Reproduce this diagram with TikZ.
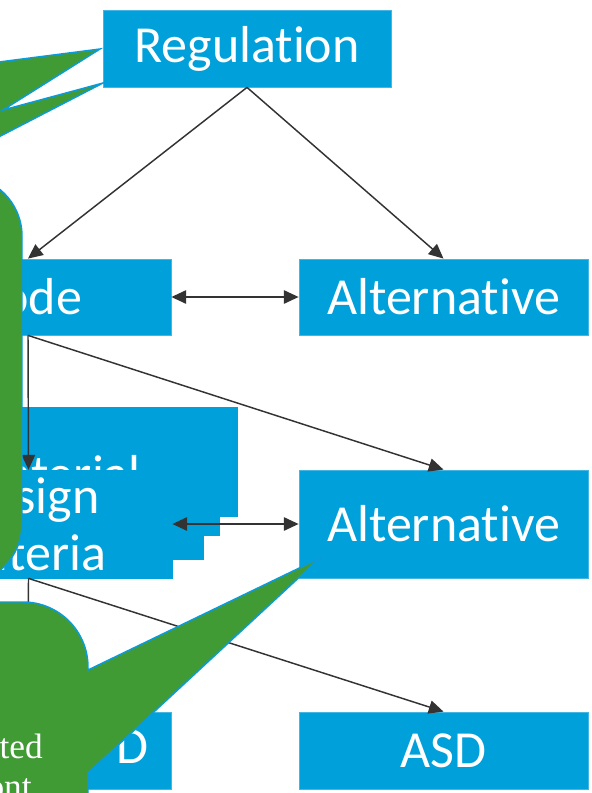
\documentclass[tikz,border=0pt]{standalone}
\usepackage{fontspec}
\usetikzlibrary{arrows.meta}
\newfontfamily\boxfont{Carlito}[Ligatures=NoCommon]
\newfontfamily\callfont{Liberation Serif}
\definecolor{boxblue}{HTML}{00A0DA}
\definecolor{boxedge}{HTML}{45B5E4}
\definecolor{calgreen}{HTML}{409B35}
\definecolor{caledge}{HTML}{0A9BDC}
\definecolor{arrgray}{HTML}{333333}
\begin{document}
\begin{tikzpicture}[x=0.75pt,y=-0.75pt,
 box/.style={fill=boxblue,draw=boxedge,line width=0.6pt,inner sep=0pt,text=white,font=\boxfont\fontsize{39}{42.75}\selectfont,align=center},
 flatbox/.style={box,draw=boxblue},
 lbl/.style={inner sep=0pt,text=white,font=\boxfont\fontsize{39}{42.75}\selectfont},
 arr/.style={draw=arrgray,line width=1.1pt,-{Triangle[length=11pt,width=10pt]}},
 arrtwo/.style={draw=arrgray,line width=1.1pt,{Triangle[length=11pt,width=10pt]}-{Triangle[length=11pt,width=10pt]}},
 callout/.style={fill=calgreen,draw=caledge,line width=1.1pt,line join=miter},
 calltext/.style={inner sep=0pt,text=white,font=\callfont\fontsize{26.5}{30}\selectfont}]
\useasboundingbox (0,0) rectangle (592,793);

% boxes
\node[box,minimum width=216pt,minimum height=57.75pt] (reg) at (247,48.5) {Regulation};
\node[box,minimum width=214.5pt,minimum height=57pt] (code) at (28,297) {Code};
\node[box,minimum width=216.75pt,minimum height=57pt] (alt1) at (443.5,297) {Alternative};
\node[flatbox,minimum width=264pt,minimum height=81.75pt] (mata) at (61,461.5) {};
\node[flatbox,minimum width=250.5pt,minimum height=78.75pt] (matb) at (52,482.5) {};
\node[flatbox,minimum width=238.5pt,minimum height=81.75pt] (matc) at (44,504.5) {};
\node[lbl,anchor=base east] (mattext) at (141,491) {Material};
\node[flatbox,minimum width=215.25pt,minimum height=81pt] (design) at (28.5,524) {Design\\Criteria};
\node[box,minimum width=216.75pt,minimum height=81pt] (alt2) at (443.5,524) {Alternative};
\node[box,minimum width=214.5pt,minimum height=57.75pt] (lrfd) at (28,750.5) {};
\node[lbl,anchor=base east] (lrfdtext) at (149,763) {D};
\node[box,minimum width=216.75pt,minimum height=57.75pt] (asd) at (443.5,750.5) {ASD};

% connectors
\draw[arr] (reg.south) -- (code.north);
\draw[arr] (reg.south) -- (alt1.north);
\draw[arrtwo] (code.east) -- (alt1.west);
\draw[arr] (code.south) -- (alt2.north);
\draw[arr] (code.south) -- (design.north);
\draw[arrtwo] (design.east) -- (alt2.west);
\draw[arr] (design.south) -- (asd.north);
\draw[arr] (design.south) -- (lrfd.north);

% callouts
\draw[callout] (-40,67) -- (100,49) -- (3,110) -- (103,83) -- (-40,157) -- cycle;
\draw[callout,rounded corners=45pt] (-300,176) rectangle (22,584);
\draw[callout] (-300,602) -- (23,602) .. controls (58.9,602) and (88,631.1) .. (88,667)
  -- (88,670) -- (320,558) -- (88,773) -- (88,900) -- (-300,900) -- cycle;
\node[calltext,anchor=base east] (ct1) at (43,758) {ted};
\node[calltext,anchor=base east] (ct2) at (32,798) {ont};
\end{tikzpicture}
\end{document}
